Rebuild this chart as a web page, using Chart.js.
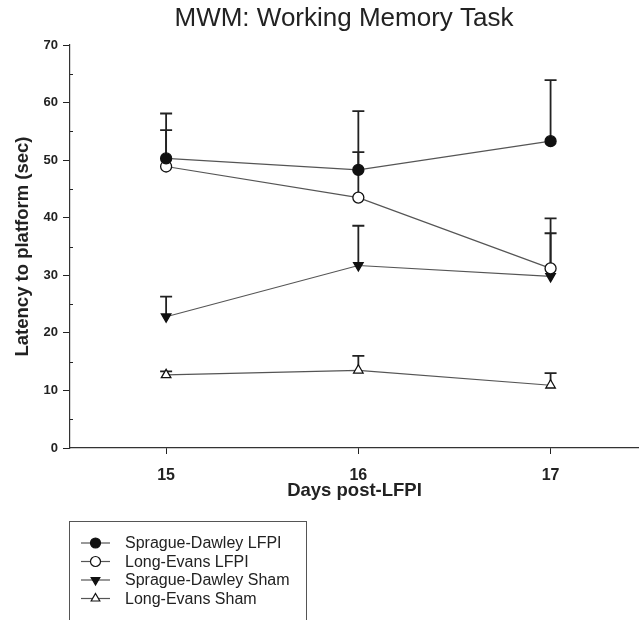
<!DOCTYPE html>
<html>
<head>
<meta charset="utf-8">
<script src="https://cdn.jsdelivr.net/npm/chart.js@4.4.1/dist/chart.umd.min.js"></script>
<style>
  html, body { margin: 0; padding: 0; background: #fff; }
  #wrap { width: 639px; height: 620px; }
</style>
</head>
<body>
<div id="wrap"><canvas id="mwmChart" width="639" height="620"></canvas></div>
<script>
// days on x axis
const days = [15, 16, 17];
const yTicks = [0, 10, 20, 30, 40, 50, 60, 70];

// group means (sec)
const sdLfpi = [50.3, 48.3, 53.3];
const leLfpi = [48.9, 43.5, 31.2];
const sdSham = [22.8, 31.7, 29.8];
const leSham = [12.7, 13.5, 10.9];

// top of the error bars (mean + SEM)
const sdLfpiErr = [58.1, 51.4, 63.9];
const leLfpiErr = [55.2, 58.5, 37.3];
const sdShamErr = [26.3, 38.6, 39.9];
const leShamErr = [13.3, 16.0, 13.0];

const seriesNames = ['Sprague-Dawley LFPI', 'Long-Evans LFPI', 'Sprague-Dawley Sham', 'Long-Evans Sham'];

const FONT = '"Liberation Sans", Arial, Helvetica, sans-serif';

function makeSet(label, values, errs, style, fill, rotation) {
    return {
        label: label,
        data: days.map((d, i) => ({ x: d, y: values[i] })),
        errTop: errs,
        borderColor: '#555',
        borderWidth: 1.2,
        pointStyle: style,
        pointRotation: rotation || 0,
        pointRadius: 5.5,
        pointBorderWidth: 1.3,
        pointBorderColor: '#111',
        pointBackgroundColor: fill,
        tension: 0
    };
}

// Error bars (upper only) drawn under the markers
const errorBars = {
    id: 'errorBars',
    beforeDatasetsDraw(chart) {
        const ctx = chart.ctx;
        const xs = chart.scales.x, ys = chart.scales.y;
        ctx.save();
        chart.data.datasets.forEach((ds) => {
            ds.data.forEach((p, i) => {
                const x = xs.getPixelForValue(p.x);
                const y0 = ys.getPixelForValue(p.y);
                const y1 = ys.getPixelForValue(ds.errTop[i]);
                ctx.strokeStyle = '#222';
                ctx.lineWidth = 1.8;
                ctx.beginPath();
                ctx.moveTo(x, y0);
                ctx.lineTo(x, y1);
                ctx.moveTo(x - 6, y1);
                ctx.lineTo(x + 6, y1);
                ctx.stroke();
            });
        });
        ctx.restore();
    }
};

// Title, minor ticks and boxed legend
const decorations = {
    id: 'decorations',
    afterDraw(chart) {
        const ctx = chart.ctx;
        const ys = chart.scales.y;
        const left = chart.chartArea.left;
        ctx.save();

        ctx.fillStyle = '#222';
        ctx.font = '26px ' + FONT;
        ctx.textAlign = 'center';
        ctx.textBaseline = 'middle';
        ctx.fillText('MWM: Working Memory Task', 344, 19);

        // minor ticks at the 5s
        ctx.strokeStyle = '#222';
        ctx.lineWidth = 1;
        for (let v = 5; v < 70; v += 10) {
            const y = Math.round(ys.getPixelForValue(v)) + 0.5;
            ctx.beginPath();
            ctx.moveTo(left, y);
            ctx.lineTo(left + 3, y);
            ctx.stroke();
        }

        // legend box
        ctx.strokeStyle = '#555';
        ctx.lineWidth = 1;
        ctx.strokeRect(69.5, 521.5, 237, 110);

        ctx.font = '16px ' + FONT;
        ctx.textAlign = 'left';
        chart.data.datasets.forEach((ds, i) => {
            const y = 543 + i * 18.5;
            ctx.strokeStyle = '#555';
            ctx.lineWidth = 1.2;
            ctx.beginPath();
            ctx.moveTo(81, y);
            ctx.lineTo(110, y);
            ctx.stroke();
            ctx.fillStyle = ds.pointBackgroundColor;
            ctx.strokeStyle = '#111';
            ctx.lineWidth = 1.2;
            Chart.helpers.drawPoint(ctx, {
                pointStyle: ds.pointStyle,
                rotation: ds.pointRotation,
                radius: 5,
                borderWidth: 1.2
            }, 95.5, y);
            ctx.fillStyle = '#222';
            ctx.fillText(ds.label, 125, y + 1);
        });
        ctx.restore();
    }
};

new Chart(document.getElementById('mwmChart'), {
    type: 'line',
    data: {
        datasets: [
            makeSet(seriesNames[0], sdLfpi, sdLfpiErr, 'circle', '#111'),
            makeSet(seriesNames[1], leLfpi, leLfpiErr, 'circle', '#fff'),
            makeSet(seriesNames[2], sdSham, sdShamErr, 'triangle', '#111', 180),
            makeSet(seriesNames[3], leSham, leShamErr, 'triangle', '#fff')
        ]
    },
    options: {
        responsive: false,
        animation: false,
        layout: { autoPadding: false, padding: { top: 45, right: 0, bottom: 112, left: 0 } },
        plugins: {
            legend: { display: false },
            title: { display: false },
            tooltip: { enabled: false }
        },
        scales: {
            x: {
                type: 'linear',
                min: 14.5,
                max: 17.46,
                afterBuildTicks: (s) => { s.ticks = days.map(v => ({ value: v })); },
                afterFit: (s) => { s.height = 60; s.paddingLeft = 0; s.paddingRight = 0; },
                grid: { drawOnChartArea: false, drawTicks: true, tickLength: 6, color: '#222' },
                border: { color: '#333', width: 1.2 },
                ticks: {
                    color: '#222',
                    padding: 12,
                    font: { family: FONT, size: 16, weight: 'bold' }
                },
                title: {
                    display: true,
                    text: 'Days post-LFPI',
                    color: '#222',
                    padding: { top: 0, bottom: 6 },
                    font: { family: FONT, size: 18.5, weight: 'bold' }
                }
            },
            y: {
                min: 0,
                max: 70,
                afterBuildTicks: (s) => { s.ticks = yTicks.map(v => ({ value: v })); },
                afterFit: (s) => { s.width = 70; },
                grid: { drawOnChartArea: false, drawTicks: true, tickLength: 7, color: '#222' },
                border: { color: '#333', width: 1.2 },
                ticks: {
                    color: '#222',
                    padding: 5,
                    font: { family: FONT, size: 13, weight: 'bold' }
                },
                title: {
                    display: true,
                    text: 'Latency to platform (sec)',
                    color: '#222',
                    padding: { top: 12, bottom: 0 },
                    font: { family: FONT, size: 18.5, weight: 'bold' }
                }
            }
        }
    },
    plugins: [errorBars, decorations]
});
</script>
</body>
</html>
